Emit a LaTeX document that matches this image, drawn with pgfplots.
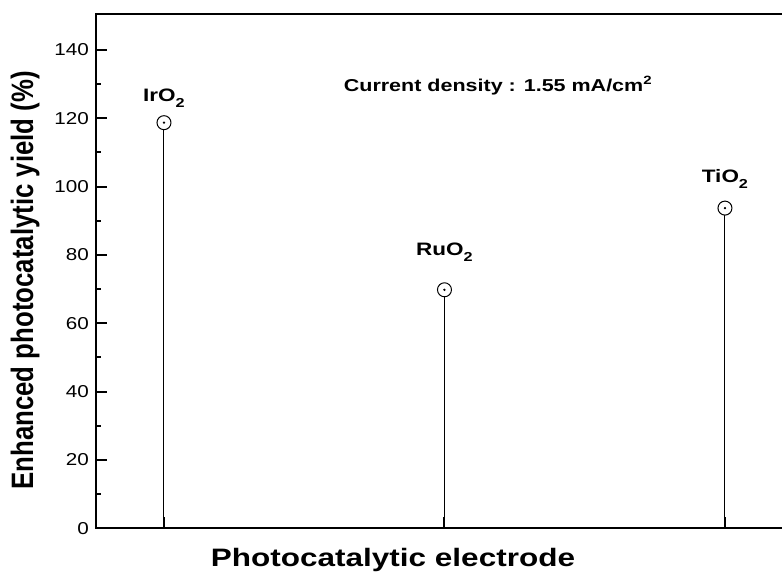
\documentclass[border=0pt]{standalone}
\usepackage{fontspec}
\setmainfont{Liberation Sans}
\usepackage{pgfplots}
\pgfplotsset{compat=1.18}
\newcommand{\sub}[1]{\raisebox{-0.6ex}{\fontsize{6.5}{7}\selectfont #1}}
\newcommand{\sups}[1]{\raisebox{0.8ex}{\fontsize{6}{7}\selectfont #1}}
\newcommand{\wide}[1]{\scalebox{1.25}[1]{#1}}
\begin{document}
\begin{tikzpicture}
\begin{axis}[
  at={(0,0)}, anchor=south west,
  scale only axis, width=348pt, height=257.15pt,
  xmin=0.7576, xmax=3.239, ymin=0, ymax=150.5,
  axis line style={line width=1pt},
  tick align=inside,
  xtick pos=bottom, ytick pos=left,
  xtick={1,2,3}, xticklabels={},
  ytick={0,20,...,140}, minor y tick num=1,
  major tick length=5.5pt, minor tick length=2.5pt,
  every tick/.style={black, line width=1pt},
  yticklabel style={font=\fontsize{8.6}{10}\selectfont},
  yticklabel={\scalebox{1.2}[1]{\pgfmathprintnumber{\tick}}},
  /pgf/number format/assume math mode=true,
  clip=false,
]
\addplot[ycomb, black, line width=0.5pt, mark=*, mark size=3.5pt,
  mark options={fill=white, draw=black, line width=0.5pt}]
  coordinates {(1,118.7) (2,69.8) (3,93.7)};
\addplot[only marks, black, mark=*, mark size=0.35pt]
  coordinates {(1,118.7) (2,69.8) (3,93.7)};
\node[anchor=base, font=\bfseries\fontsize{9}{10}\selectfont] at (axis cs:1,124.8) {\wide{IrO\sub{2}}};
\node[anchor=base, font=\bfseries\fontsize{9}{10}\selectfont] at (axis cs:2,79.7) {\wide{RuO\sub{2}}};
\node[anchor=base, font=\bfseries\fontsize{9}{10}\selectfont] at (axis cs:3,101.1) {\wide{TiO\sub{2}}};
\node[anchor=base, font=\bfseries\fontsize{8.6}{10}\selectfont] at (axis cs:2.19,127.8) {\wide{Current density : 1.55 mA/cm\sups{2}}};
\end{axis}
\node[anchor=base, font=\bfseries\fontsize{12.6}{14}\selectfont] at (148.5pt,-18.85pt) {\wide{Photocatalytic electrode}};
\node[rotate=90, anchor=center, font=\bfseries\fontsize{12.9}{14}\selectfont] at (-35.5pt,124pt) {\scalebox{1}[1.2]{Enhanced photocatalytic yield (\%)}};
\pgfresetboundingbox
\path[use as bounding box] (-48pt,-22.85pt) rectangle (343pt,264.15pt);
\end{tikzpicture}
\end{document}
